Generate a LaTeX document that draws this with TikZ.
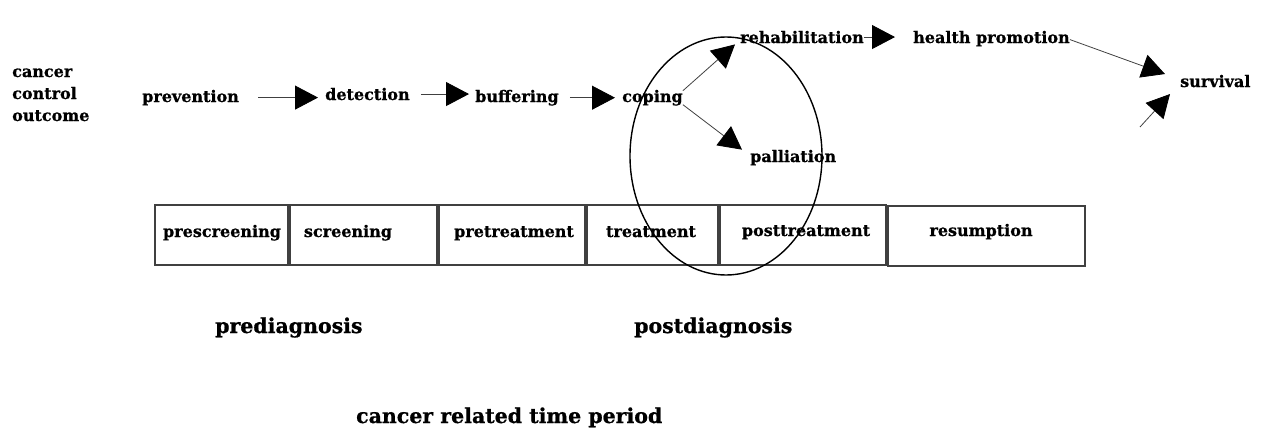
\documentclass[tikz,border=0pt]{standalone}
\usepackage{fontspec}
\setmainfont{DejaVu Serif}[BoldFeatures={FakeBold=0.8}]
\usetikzlibrary{arrows.meta,shapes.geometric}
\tikzset{
  lab/.style={font=\bfseries\fontsize{16}{22}\selectfont, inner sep=0pt, anchor=base west},
  biglab/.style={font=\bfseries\fontsize{20.5}{24}\selectfont, inner sep=0pt, anchor=base west},
  ar/.style={-{Triangle[length=23pt,width=24pt,color=black]}, draw=black!75, line width=0.8pt},
  box/.style={draw=black!75, line width=1.1pt, minimum height=60pt, inner sep=0pt},
}
\begin{document}
\begin{tikzpicture}[x=1pt,y=-1pt]
\useasboundingbox (0,0) rectangle (1265,431);
% left title
\node[lab, align=left] (title) at (12,121) {cancer\\control\\outcome};
% top chain
\node[lab] (prev) at (142,102) {prevention};
\node[lab] (det) at (325,100) {detection};
\node[lab] (buf) at (475,102) {buffering};
\node[lab] (cop) at (622,102) {coping};
\node[lab] (reh) at (740,43) {rehabilitation};
\node[lab] (hp) at (913,43) {health promotion};
\node[lab] (sur) at (1180,87) {survival};
\node[lab] (pal) at (750,162) {palliation};
\coordinate (src) at (1140,127);
% connectors
\draw[ar, shorten <=19pt, shorten >=7pt] (prev.east) -- (prev.east -| det.west);
\draw[ar, shorten <=11pt, shorten >=6pt] (det.east) -- (det.east -| buf.west);
\draw[ar, shorten <=11pt, shorten >=7pt] (buf.east) -- (buf.east -| cop.west);
\draw[ar] ([yshift=7pt]cop.east) -- ([xshift=-5pt,yshift=-1pt]reh.south west);
\draw[ar] ([yshift=-7pt]cop.east) -- ([xshift=-8pt]pal.north west);
\draw[ar, shorten >=18pt] (reh.east) -- (reh.east -| hp.west);
\draw[ar] ([yshift=-1pt]hp.east) -- ([xshift=-15pt,yshift=7pt]sur.west);
\draw[ar] (src) -- ([xshift=-10pt,yshift=-13pt]sur.west);
% boxes
\node[box, minimum width=133pt] (b1) at (221.5,235) {};
\node[box, minimum width=147pt] (b2) at (363.5,235) {};
\node[box, minimum width=146pt] (b3) at (512,235) {};
\node[box, minimum width=131pt] (b4) at (652.5,235) {};
\node[box, minimum width=166pt] (b5) at (803,235) {};
\node[box, minimum width=197pt] (b6) at (986.5,236) {};
\node[lab, anchor=base] (l1) at (222,237) {prescreening};
\node[lab, anchor=base] (l2) at (348,237) {screening};
\node[lab, anchor=base] (l3) at (514,237) {pretreatment};
\node[lab, anchor=base] (l4) at (651,237) {treatment};
\node[lab, anchor=base] (l5) at (806,236) {posttreatment};
\node[lab, anchor=base] (l6) at (981,236) {resumption};
% ellipse
\node[draw, ellipse, minimum width=192pt, minimum height=238pt, inner sep=0pt, line width=1.4pt] (focus) at (726,156) {};
% bottom labels
\node[biglab] (pre) at (215,333) {prediagnosis};
\node[biglab] (post) at (634,333) {postdiagnosis};
\node[biglab] (period) at (356,423) {cancer related time period};
\end{tikzpicture}
\end{document}
